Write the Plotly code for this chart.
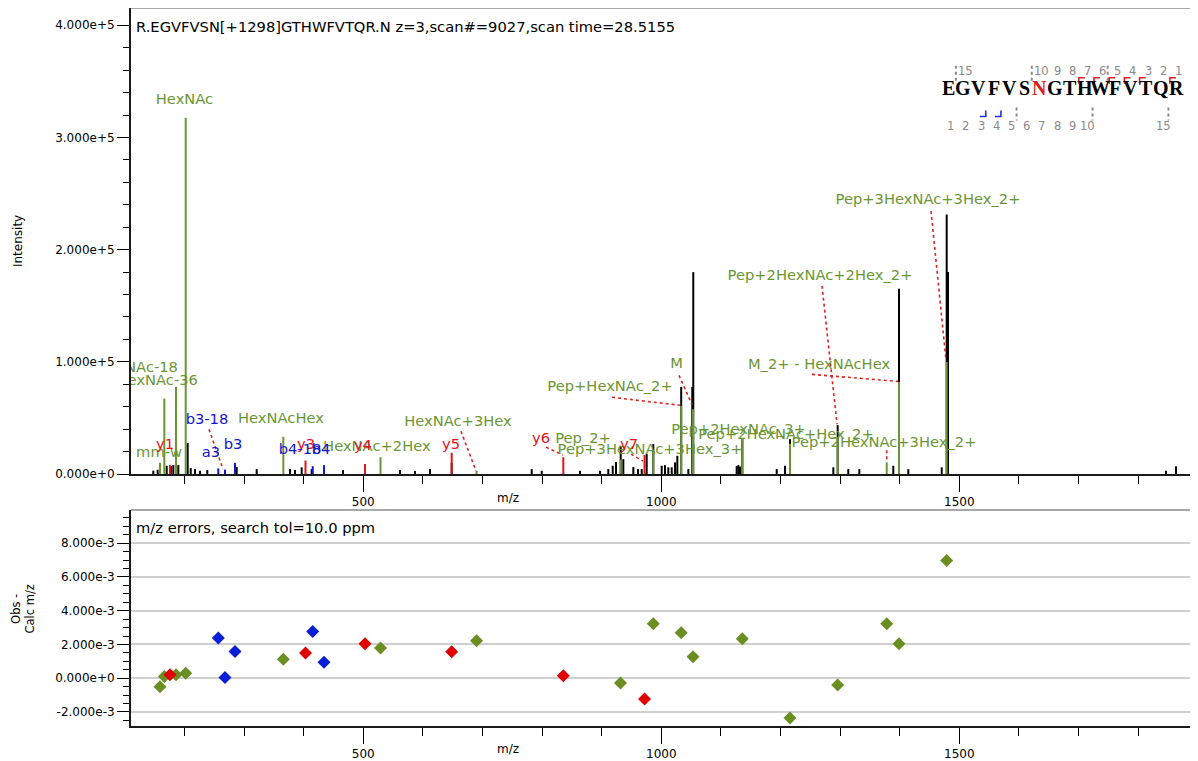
import plotly.graph_objects as go

# ---------------- data ----------------
black_mz = [147.6, 155.0, 170.1, 177.3, 181.2, 189.6, 205.3, 210.4, 217.6, 226.0, 238.2, 287.6, 321.1,
            377.0, 385.4, 396.6, 413.4, 465.9, 561.6, 586.8, 611.9, 648.3, 782.6, 799.4, 863.6, 897.2,
            911.1, 918.5, 924.0, 931.9, 936.3, 953.1, 961.0, 967.2, 975.5, 986.6, 1000.7, 1006.2, 1011.8,
            1017.5, 1023.0, 1026.9, 1033.4, 1045.4, 1052.0, 1053.7, 1126.5, 1129.3, 1132.1, 1136.0,
            1193.7, 1207.6, 1216.0, 1288.7, 1296.0, 1313.8, 1332.3, 1389.3, 1398.9, 1414.5, 1470.6,
            1478.9, 1481.1, 1846.9, 1863.7]
black_int = [3000, 3800, 7400, 7100, 8000, 8000, 27600, 5300, 4400, 2900, 3600, 6200, 4400,
             4400, 3600, 6000, 4400, 3600, 3600, 2700, 4400, 10000, 4400, 2900, 2900, 2900,
             4400, 7400, 10700, 25200, 13300, 6200, 4400, 4400, 17800, 26700, 7400, 8000, 6000,
             6000, 10400, 16300, 77700, 4400, 77700, 180000, 7100, 8000, 6700, 31100,
             4400, 7400, 31100, 6000, 43600, 4400, 4400, 7400, 165200, 4400, 6000,
             231300, 180000, 2900, 6900]

green_labels = ["mm-w", "HexNAc-36", "HexNAc-18", "HexNAc", "HexNAcHex", "HexNAc+2Hex", "HexNAc+3Hex",
                "Pep_2+", "Pep+3HexNAc+3Hex_3+", "Pep+HexNAc_2+", "M", "Pep+2HexNAc_3+",
                "Pep+2HexNAc+Hex_2+", "Pep+2HexNAc+2Hex_2+", "Pep+2HexNAc+3Hex_2+",
                "M_2+ - HexNAcHex", "Pep+3HexNAc+3Hex_2+"]
green_mz = [158.9, 166.1, 185.7, 202.0, 365.8, 528.9, 690.0, 931.6, 986.6, 1033.4, 1053.2, 1136.0,
            1216.0, 1296.0, 1378.3, 1398.9, 1478.9]
green_int = [10000, 67300, 77700, 317600, 33200, 15000, 3000, 13000, 20000, 60800, 57800, 31100,
             27000, 33000, 10400, 82100, 99900]
green_err = [-0.50e-3, 0.10e-3, 0.21e-3, 0.30e-3, 1.13e-3, 1.79e-3, 2.22e-3, -0.28e-3, 3.23e-3,
             2.70e-3, 1.27e-3, 2.34e-3, -2.36e-3, -0.40e-3, 3.23e-3, 2.04e-3, 6.98e-3]

red_labels = ["y1", "y3", "y4", "y5", "y6", "y7"]
red_mz = [175.6, 403.0, 502.9, 648.3, 835.6, 971.9]
red_int = [8000, 12000, 9000, 19000, 15000, 17000]
red_err = [0.21e-3, 1.49e-3, 2.04e-3, 1.57e-3, 0.14e-3, -1.23e-3]

blue_labels = ["a3", "b3-18", "b3", "b4-18", "b4"]
blue_mz = [256.7, 267.9, 284.7, 415.1, 434.1]
blue_int = [5000, 4000, 10000, 7000, 8000]
blue_err = [2.38e-3, 0.04e-3, 1.58e-3, 2.77e-3, 0.95e-3]

x_ticks = [500, 1000, 1500]
y1_ticks = [0, 100000, 200000, 300000, 400000]
y1_ticktext = ["0.000e+0", "1.000e+5", "2.000e+5", "3.000e+5", "4.000e+5"]
y2_ticks = [-2e-3, 0, 2e-3, 4e-3, 6e-3, 8e-3]
y2_ticktext = ["-2.000e-3", "0.000e+0", "2.000e-3", "4.000e-3", "6.000e-3", "8.000e-3"]

title_text = "R.EGVFVSN[+1298]GTHWFVTQR.N z=3,scan#=9027,scan time=28.5155"
err_title = "m/z errors, search tol=10.0 ppm"
sequence = "EGVFVSNGTHWFVTQR"
glyco_site = 6
b_observed = [3, 4]
y_observed = [1, 3, 4, 5, 6, 7]

# ---------------- layout placement (label anchors in data space) ----------------
label_pos = {
    "mm-w": (157.3, 18600, "middle center"),
    "HexNAc-36": (222.5, 82600, "middle left"),
    "HexNAc-18": (189.0, 94100, "middle left"),
    "HexNAc": (200.0, 332900, "middle center"),
    "HexNAcHex": (361.9, 48800, "middle center"),
    "HexNAc+2Hex": (522.8, 24000, "middle center"),
    "HexNAc+3Hex": (658.9, 46200, "middle center"),
    "Pep_2+": (868.7, 31100, "middle center"),
    "Pep+3HexNAc+3Hex_3+": (981.1, 21300, "middle center"),
    "Pep+HexNAc_2+": (914.0, 77200, "middle center"),
    "M": (1025.5, 97600, "middle center"),
    "Pep+2HexNAc_3+": (1129.6, 39100, "middle center"),
    "Pep+2HexNAc+Hex_2+": (1209.3, 34600, "middle center"),
    "Pep+2HexNAc+2Hex_2+": (1266.4, 176600, "middle center"),
    "Pep+2HexNAc+3Hex_2+": (1373.8, 27500, "middle center"),
    "M_2+ - HexNAcHex": (1264.7, 96800, "middle center"),
    "Pep+3HexNAc+3Hex_2+": (1447.6, 244100, "middle center"),
    "y1": (167.4, 25700, "middle center"),
    "y3": (403.8, 25700, "middle center"),
    "y4": (499.4, 24900, "middle center"),
    "y5": (647.2, 25700, "middle center"),
    "y6": (798.2, 31100, "middle center"),
    "y7": (945.9, 25700, "middle center"),
    "a3": (244.4, 18600, "middle center"),
    "b3-18": (237.7, 47900, "middle center"),
    "b3": (281.3, 25700, "middle center"),
    "b4-18": (393.8, 21300, "middle center"),
    "b4": (429.0, 21300, "middle center"),
}
connectors = [
    ((241.1, 39900), (264.6, 4400)),
    ((663.9, 38200), (689.1, 2700)),
    ((806.6, 24000), (835.1, 16900)),
    ((949.2, 17800), (969.3, 11500)),
    ((1029.7, 87900), (1051.5, 62100)),
    ((917.3, 68400), (1031.4, 61300)),
    ((1252.9, 88800), (1397.2, 82600)),
    ((1269.7, 167800), (1294.9, 44400)),
    ((1452.6, 234400), (1477.8, 101200)),
    ((1378.3, 21300), (1378.3, 11500)),
]

GREEN = "#6b9535"
RED = "#e3121b"
BLUE = "#1515d0"
LABEL_FONT = "DejaVu Sans"
LABEL_SIZE = 14.7
TICK_FONT = dict(family="DejaVu Sans", size=12, color="black")

# page offset (default body margin of the html page)
OFF = 8
W, H = 1198 - OFF, 761 - OFF
ML, MR, MT, MB = 131 - OFF, 0, 0, 32
PW, PH = W - ML - MR, H - MT - MB


def px_x(px):
    """screen pixel x -> paper x"""
    return (px - OFF - ML) / PW


def px_y(py):
    """screen pixel y -> paper y"""
    return (H - MB - (py - OFF)) / PH


def sticks(mz, inten):
    xs, ys = [], []
    for m, v in zip(mz, inten):
        xs += [m, m, None]
        ys += [0, v, None]
    return xs, ys


fig = go.Figure()

bx, by = sticks(black_mz, black_int)
fig.add_trace(go.Scatter(x=bx, y=by, mode="lines", line=dict(color="black", width=2),
                         hoverinfo="skip", showlegend=False, xaxis="x", yaxis="y"))
for mz, inten, col in [(green_mz, green_int, GREEN), (red_mz, red_int, RED), (blue_mz, blue_int, BLUE)]:
    sx, sy = sticks(mz, inten)
    fig.add_trace(go.Scatter(x=sx, y=sy, mode="lines", line=dict(color=col, width=2),
                             hoverinfo="skip", showlegend=False, xaxis="x", yaxis="y"))

cx, cy = [], []
for (a, b) in connectors:
    cx += [a[0], b[0], None]
    cy += [a[1], b[1], None]
fig.add_trace(go.Scatter(x=cx, y=cy, mode="lines", line=dict(color="#dd2222", width=1.6, dash="dot"),
                         hoverinfo="skip", showlegend=False, xaxis="x", yaxis="y"))

for labels, col in [(green_labels, GREEN), (red_labels, RED), (blue_labels, BLUE)]:
    lx = [label_pos[t][0] for t in labels]
    ly = [label_pos[t][1] for t in labels]
    lp = [label_pos[t][2] for t in labels]
    fig.add_trace(go.Scatter(x=lx, y=ly, mode="text", text=labels, textposition=lp,
                             textfont=dict(family=LABEL_FONT, size=LABEL_SIZE, color=col),
                             cliponaxis=True, hoverinfo="skip", showlegend=False,
                             xaxis="x", yaxis="y"))

for mz, err, col in [(green_mz, green_err, "#6b8e23"), (red_mz, red_err, "#e00000"),
                     (blue_mz, blue_err, "#0a1ed8")]:
    fig.add_trace(go.Scatter(x=mz, y=err, mode="markers",
                             marker=dict(symbol="diamond", size=10, color=col, line=dict(width=0)),
                             hoverinfo="skip", showlegend=False, xaxis="x2", yaxis="y2"))

xr = [110.2, 1900.6]
common_x = dict(range=xr, tickmode="array", tickvals=x_ticks, ticks="outside", ticklen=16,
                tickwidth=1, tickcolor="black", showline=True, linecolor="#1a1a1a", linewidth=2,
                showgrid=False, zeroline=False, tickfont=TICK_FONT,
                minor=dict(tickmode="linear", tick0=0, dtick=100, ticks="outside", ticklen=8,
                           tickcolor="black", tickwidth=1, showgrid=False))

dom1_bottom = px_y(476)
dom2_top = px_y(512)

fig.update_layout(
    width=W, height=H, autosize=False,
    margin=dict(l=ML, r=MR, t=MT, b=MB, pad=0),
    paper_bgcolor="white", plot_bgcolor="white",
    showlegend=False,
    xaxis=dict(domain=[0, 1], anchor="y", **common_x),
    yaxis=dict(domain=[dom1_bottom, 1], anchor="x", range=[0, 415400], tickmode="array",
               tickvals=y1_ticks, ticktext=y1_ticktext, ticks="outside", ticklen=12, tickwidth=1,
               tickcolor="black", showline=True, linecolor="#1a1a1a", linewidth=2,
               showgrid=False, zeroline=False, tickfont=TICK_FONT,
               minor=dict(tickmode="linear", tick0=0, dtick=20000, ticks="outside", ticklen=6,
                          tickcolor="black", tickwidth=1, showgrid=False)),
    xaxis2=dict(domain=[0, 1], anchor="y2", **common_x),
    yaxis2=dict(domain=[0, dom2_top], anchor="x2", range=[-2.83e-3, 9.97e-3], tickmode="array",
                tickvals=y2_ticks, ticktext=y2_ticktext, ticks="outside", ticklen=12, tickwidth=1,
                tickcolor="black", showline=True, linecolor="#1a1a1a", linewidth=2,
                showgrid=True, gridcolor="#cfcfcf", gridwidth=2, zeroline=False, tickfont=TICK_FONT,
                minor=dict(tickmode="linear", tick0=0, dtick=5e-4, ticks="outside", ticklen=6,
                           tickcolor="black", tickwidth=1, showgrid=False)),
)

annotations = []
shapes = []

shapes.append(dict(type="line", xref="paper", yref="paper", x0=0, x1=1, y0=1, y1=1,
                   line=dict(color="#a8a8a8", width=2)))
shapes.append(dict(type="line", xref="paper", yref="paper", x0=0, x1=1, y0=dom2_top, y1=dom2_top,
                   line=dict(color="#a8a8a8", width=2)))

annotations.append(dict(text=title_text, xref="paper", yref="paper", x=px_x(134), y=px_y(27),
                        xanchor="left", yanchor="middle", showarrow=False,
                        font=dict(family=LABEL_FONT, size=LABEL_SIZE, color="black")))
annotations.append(dict(text=err_title, xref="paper", yref="paper", x=px_x(134), y=px_y(530),
                        xanchor="left", yanchor="middle", showarrow=False,
                        font=dict(family=LABEL_FONT, size=LABEL_SIZE, color="black")))
annotations.append(dict(text="Intensity", xref="paper", yref="paper", x=px_x(18), y=px_y(242),
                        xanchor="center", yanchor="middle", textangle=-90, showarrow=False,
                        font=dict(family="DejaVu Sans", size=12, color="black")))
annotations.append(dict(text="Obs -<br>Calc m/z", xref="paper", yref="paper", x=px_x(23), y=px_y(612),
                        xanchor="center", yanchor="middle", textangle=-90, showarrow=False,
                        font=dict(family="DejaVu Sans", size=11.5, color="black")))
annotations.append(dict(text="m/z", xref="paper", yref="paper", x=px_x(508), y=px_y(500),
                        xanchor="center", yanchor="middle", showarrow=False,
                        font=dict(family="DejaVu Sans", size=12, color="black")))
annotations.append(dict(text="m/z", xref="paper", yref="paper", x=px_x(508), y=px_y(752),
                        xanchor="center", yanchor="middle", showarrow=False,
                        font=dict(family="DejaVu Sans", size=12, color="black")))

# sequence graphic
pitch = 15.18
x0 = 948.3
n = len(sequence)
centers = [x0 + pitch * i for i in range(n)]
for i, ch in enumerate(sequence):
    annotations.append(dict(text="<b>%s</b>" % ch, xref="paper", yref="paper",
                            x=px_x(centers[i]), y=px_y(88.5), xanchor="center", yanchor="middle",
                            showarrow=False,
                            font=dict(family="Liberation Serif", size=20,
                                      color="#e31a1a" if i == glyco_site else "black")))
num_font = dict(family="DejaVu Sans", size=11.5, color="#8a8a8a")
shown = [k for k in range(1, 11)] + [15]
for k in shown:
    it = n - k
    annotations.append(dict(text=str(k), xref="paper", yref="paper", x=px_x(centers[it] + 2.5),
                            y=px_y(71), xanchor="center", yanchor="middle", showarrow=False,
                            font=num_font))
    ib = k - 1
    annotations.append(dict(text=str(k), xref="paper", yref="paper", x=px_x(centers[ib] + 2.5),
                            y=px_y(126), xanchor="center", yanchor="middle", showarrow=False,
                            font=num_font))


def boundary(i):
    return (centers[i] + centers[i + 1]) / 2


for k in [5, 10, 15]:
    bt = boundary(n - k - 1)
    shapes.append(dict(type="line", xref="paper", yref="paper", x0=px_x(bt), x1=px_x(bt),
                       y0=px_y(66), y1=px_y(83), line=dict(color="#8a8a8a", width=2, dash="dot")))
    bb = boundary(k - 1)
    shapes.append(dict(type="line", xref="paper", yref="paper", x0=px_x(bb), x1=px_x(bb),
                       y0=px_y(108), y1=px_y(121), line=dict(color="#8a8a8a", width=2, dash="dot")))

for k in y_observed:
    b = boundary(n - k - 1)
    shapes.append(dict(type="path", xref="paper", yref="paper",
                       path="M %f %f L %f %f L %f %f" % (px_x(b + 1.5), px_y(84), px_x(b + 1.5), px_y(78),
                                                         px_x(b + 7.5), px_y(78)),
                       line=dict(color="#e02020", width=1.6)))
for k in b_observed:
    b = boundary(k - 1)
    shapes.append(dict(type="path", xref="paper", yref="paper",
                       path="M %f %f L %f %f L %f %f" % (px_x(b - 6.5), px_y(117), px_x(b - 0.5), px_y(117),
                                                         px_x(b - 0.5), px_y(111)),
                       line=dict(color="#2030e0", width=1.6)))

fig.update_layout(annotations=annotations, shapes=shapes)
fig.write_html("out.html")
